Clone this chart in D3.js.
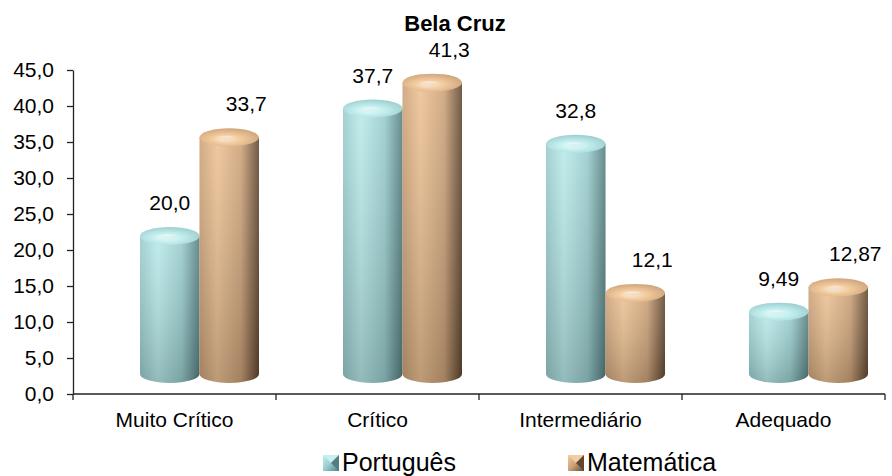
<!DOCTYPE html>
<html>
<head>
<meta charset="utf-8">
<script src="https://cdn.jsdelivr.net/npm/d3@7"></script>
<style>
  html, body { margin: 0; padding: 0; background: #fff; }
  svg { display: block; font-family: "Liberation Sans", Arial, sans-serif; }
</style>
</head>
<body>
<svg id="chart" width="892" height="476"></svg>
<script>
// Proficiency levels and the share of students in each, per subject
const chartTitle = "Bela Cruz";
const categories = ["Muito Crítico", "Crítico", "Intermediário", "Adequado"];
const seriesNames = ["Português", "Matemática"];
const portuguesValues = [20.0, 37.7, 32.8, 9.49];
const matematicaValues = [33.7, 41.3, 12.1, 12.87];
const portuguesDecimals = [1, 1, 1, 2];
const matematicaDecimals = [1, 1, 1, 2];
const yTicks = [0, 5, 10, 15, 20, 25, 30, 35, 40, 45];

const series = [
  { name: seriesNames[0], values: portuguesValues, decimals: portuguesDecimals,
    light: "#b9eaea", mid: "#98cbcc", dark: "#557d7f", cap: "#c6f0f0" },
  { name: seriesNames[1], values: matematicaValues, decimals: matematicaDecimals,
    light: "#ecc193", mid: "#cba178", dark: "#5e4630", cap: "#f3cc9f" }
];

const svg = d3.select("#chart");
const defs = svg.append("defs");

const plot = { left: 73, right: 885, top: 70, bottom: 394 };
const y = d3.scaleLinear().domain([0, 45]).range([plot.bottom, plot.top]);
const x = d3.scaleBand().domain(categories).range([plot.left, plot.right]).padding(0);

// 3D depth shift of the cylinders relative to the floor
const depthX = 25, depthTop = 14, depthBase = 20;
const cylW = 59.5, ry = 9;
const xs = d3.scaleBand().domain(seriesNames).range([-cylW, cylW]);

const fmt = (v, dec) => v.toFixed(dec).replace(".", ",");

// Gradients for each series
series.forEach((s, i) => {
  const h = defs.append("linearGradient").attr("id", "h" + i)
    .attr("x1", 0).attr("x2", 1).attr("y1", 0).attr("y2", 0);
  h.append("stop").attr("offset", "0%").attr("stop-color", s.mid);
  h.append("stop").attr("offset", "30%").attr("stop-color", s.light);
  h.append("stop").attr("offset", "70%").attr("stop-color", s.mid);
  h.append("stop").attr("offset", "100%").attr("stop-color", s.dark);

  const c = defs.append("radialGradient").attr("id", "c" + i)
    .attr("cx", "45%").attr("cy", "60%").attr("r", "65%");
  c.append("stop").attr("offset", "0%").attr("stop-color", "#ffffff").attr("stop-opacity", 0.5);
  c.append("stop").attr("offset", "35%").attr("stop-color", s.cap).attr("stop-opacity", 1);
  c.append("stop").attr("offset", "100%").attr("stop-color", s.mid).attr("stop-opacity", 1);

  const lg = defs.append("linearGradient").attr("id", "lg" + i)
    .attr("x1", 0).attr("x2", 1).attr("y1", 0).attr("y2", 1);
  lg.append("stop").attr("offset", "0%").attr("stop-color", s.cap);
  lg.append("stop").attr("offset", "50%").attr("stop-color", s.mid);
  lg.append("stop").attr("offset", "100%").attr("stop-color", s.dark);
});
const shade = defs.append("linearGradient").attr("id", "vshade")
  .attr("x1", 0).attr("x2", 0).attr("y1", 0).attr("y2", 1);
shade.append("stop").attr("offset", "0%").attr("stop-color", "#ffffff").attr("stop-opacity", 0.12);
shade.append("stop").attr("offset", "100%").attr("stop-color", "#000000").attr("stop-opacity", 0.2);

// Title
svg.append("text")
  .attr("x", 455).attr("y", 31)
  .attr("text-anchor", "middle")
  .attr("font-size", 22).attr("font-weight", "bold").attr("fill", "#000")
  .text(chartTitle);

// Y axis
const yAxis = svg.append("g")
  .attr("transform", `translate(${plot.left},0)`)
  .call(d3.axisLeft(y).tickValues(yTicks).tickSize(6).tickSizeOuter(0).tickPadding(13)
    .tickFormat(d => fmt(d, 1)));
yAxis.selectAll("text").attr("font-size", 21).attr("fill", "#000")
  .attr("font-family", "Liberation Sans, Arial, sans-serif");
yAxis.selectAll("line, path").attr("stroke", "#222").attr("stroke-width", 1.3);

// X axis: baseline with ticks on category boundaries
const xAxis = svg.append("g").attr("transform", `translate(0,${plot.bottom})`);
xAxis.append("line").attr("x1", plot.left).attr("x2", plot.right)
  .attr("stroke", "#222").attr("stroke-width", 1.3);
const bounds = categories.map(c => x(c)).concat([plot.right]);
xAxis.selectAll(".bt").data(bounds).join("line").attr("class", "bt")
  .attr("x1", d => d).attr("x2", d => d).attr("y1", 0).attr("y2", 6)
  .attr("stroke", "#222").attr("stroke-width", 1.3);
xAxis.selectAll(".cl").data(categories).join("text").attr("class", "cl")
  .attr("x", d => x(d) + x.bandwidth() / 2).attr("y", 33)
  .attr("text-anchor", "middle").attr("font-size", 21).attr("fill", "#000")
  .text(d => d);

// Cylinders
const bars = [];
categories.forEach((cat, ci) => {
  series.forEach((s, si) => {
    bars.push({ cat, ci, si, s, v: s.values[ci], dec: s.decimals[ci] });
  });
});

const g = svg.append("g");
bars.forEach(b => {
  const x0 = x(b.cat) + x.bandwidth() / 2 + depthX + xs(b.s.name);
  const x1 = x0 + xs.bandwidth();
  const rx = (x1 - x0) / 2;
  const cx = x0 + rx;
  const yTop = y(b.v) - depthTop;
  const yBase = y(0) - depthBase;
  const body = `M${x0},${yTop} L${x0},${yBase} A${rx},${ry} 0 0 0 ${x1},${yBase} L${x1},${yTop} Z`;
  g.append("path").attr("d", body).attr("fill", `url(#h${b.si})`);
  g.append("path").attr("d", body).attr("fill", "url(#vshade)");
  g.append("ellipse").attr("cx", cx).attr("cy", yTop).attr("rx", rx).attr("ry", ry)
    .attr("fill", `url(#c${b.si})`);
  // Value label
  const lx = cx + (b.si === 0 ? 0 : 17);
  g.append("text").attr("x", lx).attr("y", yTop - 33 + 7)
    .attr("text-anchor", "middle").attr("font-size", 21).attr("fill", "#000")
    .text(fmt(b.v, b.dec));
});

// Legend
const legendX = [323, 568];
const leg = svg.append("g");
series.forEach((s, i) => {
  const lx = legendX[i], ly = 455, sz = 16;
  const m = leg.append("g").attr("transform", `translate(${lx},${ly})`);
  m.append("rect").attr("width", sz).attr("height", sz).attr("fill", `url(#lg${i})`);
  m.append("path").attr("d", `M0,0 L${sz},0 L${sz / 2},${sz / 2} Z`).attr("fill", s.cap);
  m.append("path").attr("d", `M${sz},0 L${sz},${sz} L${sz / 2},${sz / 2} Z`).attr("fill", s.dark);
  leg.append("text").attr("x", lx + sz + 3).attr("y", ly + 16)
    .attr("font-size", 25).attr("fill", "#000").text(s.name);
});
</script>
</body>
</html>
